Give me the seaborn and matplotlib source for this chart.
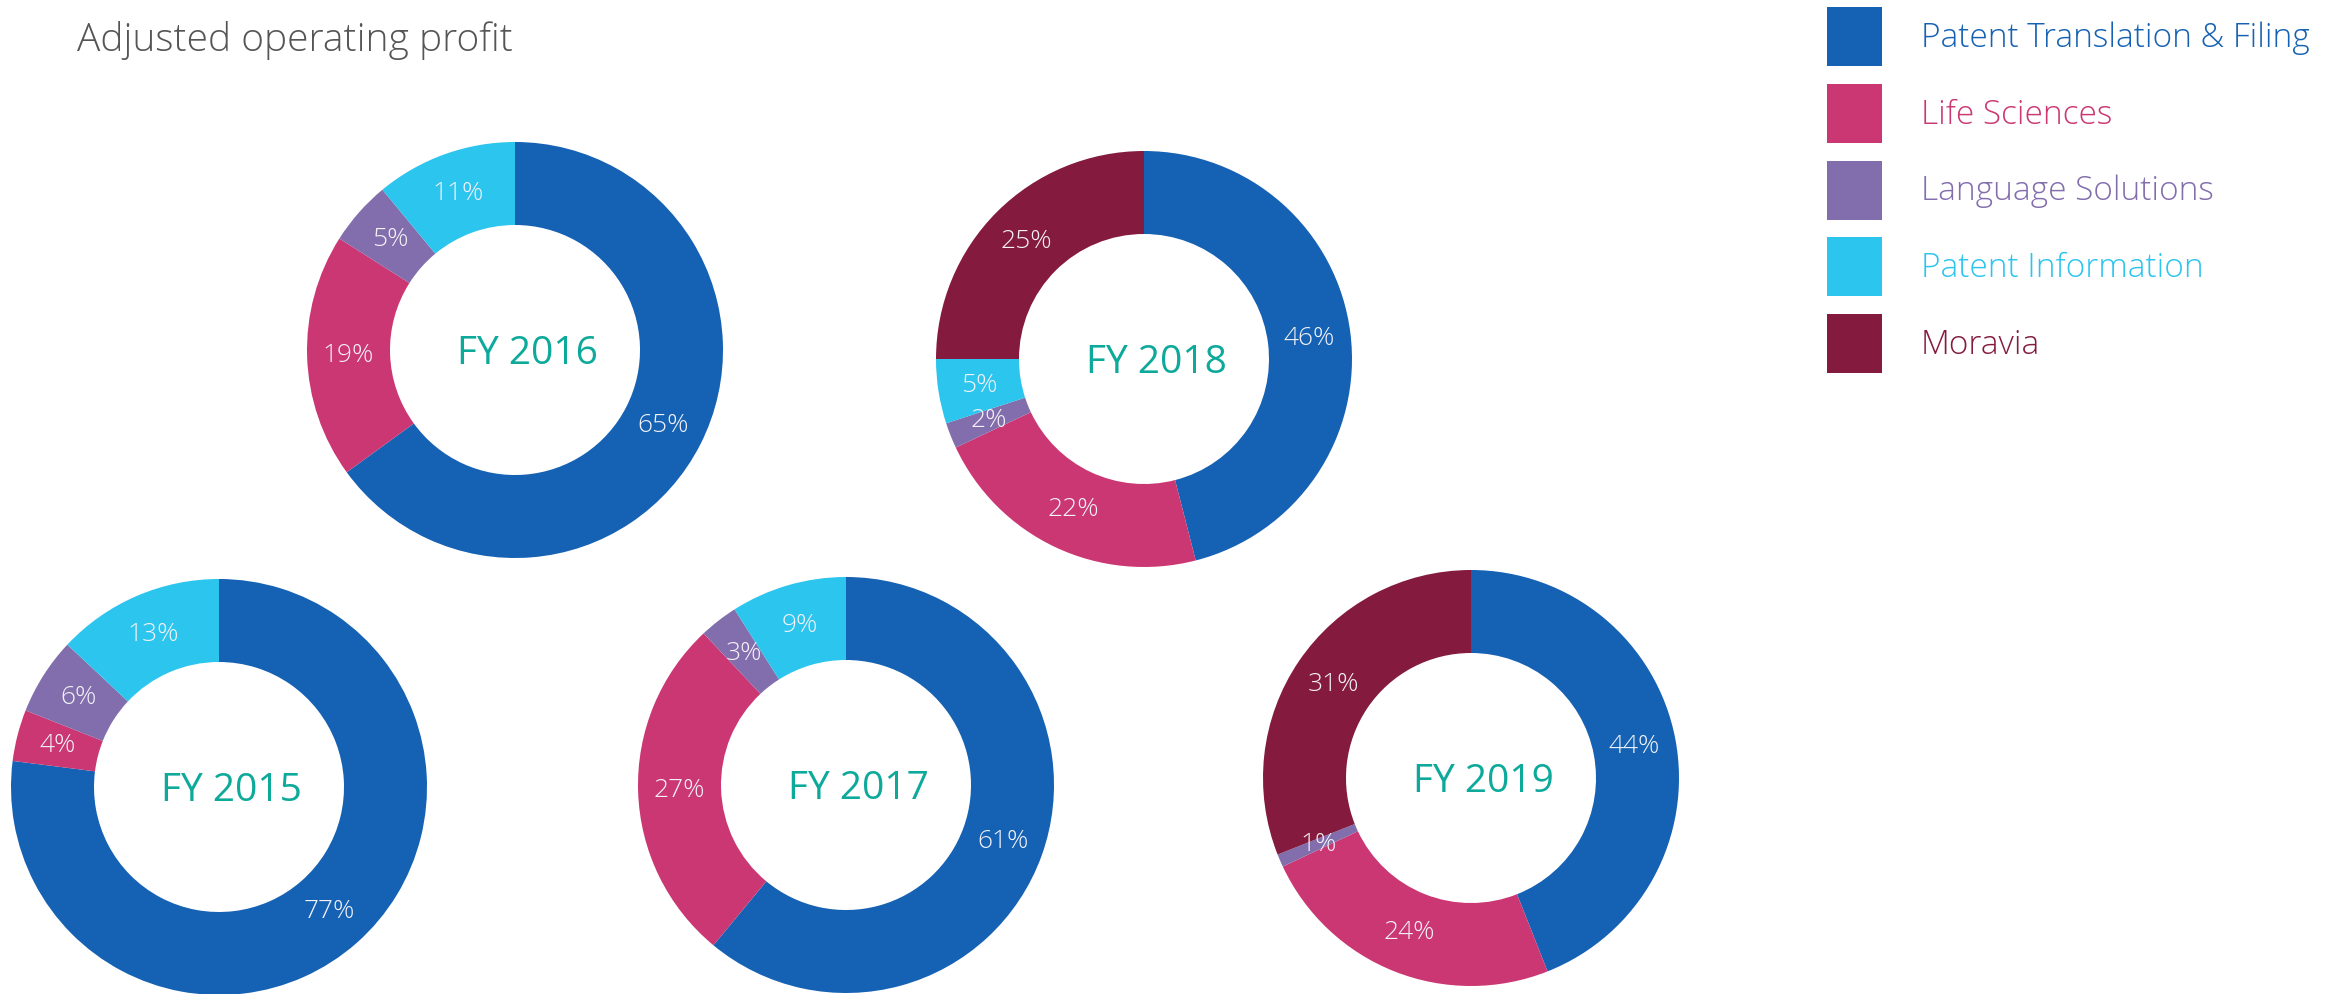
import matplotlib
matplotlib.use('Agg')
import matplotlib.pyplot as plt
from matplotlib.patches import Patch
import seaborn as sns

# segment names and colours (legend order)
segments = ['Patent Translation & Filing', 'Life Sciences', 'Language Solutions',
            'Patent Information', 'Moravia']
segment_colors = ['#1561B3', '#CB3773', '#826DAD', '#2BC5EE', '#841B3E']

# share of adjusted operating profit per fiscal year, in %
years = ['FY 2015', 'FY 2016', 'FY 2017', 'FY 2018', 'FY 2019']
fy2015 = [77, 4, 6, 13, 0]
fy2016 = [65, 19, 5, 11, 0]
fy2017 = [61, 27, 3, 9, 0]
fy2018 = [46, 22, 2, 5, 25]
fy2019 = [44, 24, 1, 0, 31]
shares = [fy2015, fy2016, fy2017, fy2018, fy2019]

W, H = 2335, 994
# donut centres in pixels from top-left
centers = [(219, 787), (515, 350), (846, 785), (1144, 359), (1471, 778)]
R_OUT, R_IN = 208, 125

sns.set_theme(style='white')
plt.rcParams['font.family'] = ['Open Sans', 'DejaVu Sans']
palette = sns.color_palette(segment_colors)

fig = plt.figure(figsize=(W / 100, H / 100), dpi=100)
ax = fig.add_axes([0, 0, 1, 1])
ax.axis('off')

for year, vals, (cx, cy) in zip(years, shares, centers):
    keep = [i for i, v in enumerate(vals) if v > 0]
    ax.pie([vals[i] for i in keep], colors=[palette[i] for i in keep],
           center=(cx, H - cy), radius=R_OUT, startangle=90, counterclock=False,
           autopct=lambda p: f'{p:.0f}%', pctdistance=(R_OUT + R_IN) / 2 / R_OUT,
           wedgeprops=dict(width=R_OUT - R_IN, linewidth=0),
           textprops=dict(color='#F2F2F7', fontsize=19, fontweight='light'))
    # year label sits a little right/below of the ring centre
    ax.text(cx + 12, H - cy - 4, year, ha='center', va='center', fontsize=28,
            color='#0DA99A')

ax.set_xlim(0, W)
ax.set_ylim(0, H)
ax.set_aspect('equal')

fig.text(77 / W, 1 - 40 / H, 'Adjusted operating profit', ha='left', va='center',
         fontsize=28, fontweight='light', color='#555555')

handles = [Patch(facecolor=c, edgecolor='none') for c in segment_colors]
leg = fig.legend(handles, segments, loc='upper left',
                 bbox_to_anchor=(1827 / W, 1 - 7 / H), frameon=False,
                 fontsize=24, handlelength=1.65, handleheight=2.35,
                 labelspacing=0.53, handletextpad=1.17, borderpad=0,
                 borderaxespad=0)
for txt, c in zip(leg.get_texts(), segment_colors):
    txt.set_color(c)
    txt.set_fontweight('light')

fig.savefig('out.png', dpi=100)
